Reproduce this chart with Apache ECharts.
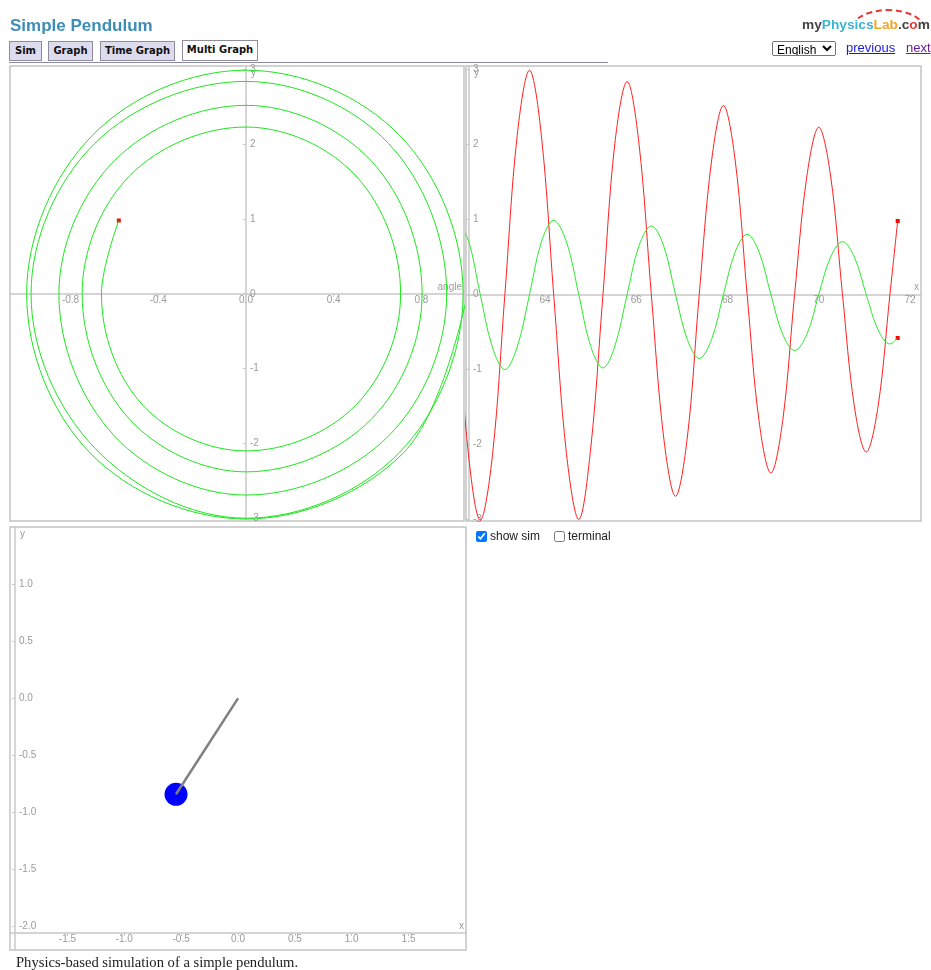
<!DOCTYPE html>
<html>
<head>
<meta charset="utf-8">
<title>Simple Pendulum</title>
<script src="https://cdn.jsdelivr.net/npm/echarts@6/dist/echarts.min.js"></script>
<style>
  html, body { margin: 0; padding: 0; background: #fff; }
  body { width: 931px; height: 970px; position: relative; overflow: hidden; font-family: "Liberation Sans", Arial, sans-serif; }
  #chart { position: absolute; left: 0; top: 0; width: 931px; height: 970px; }
  .abs { position: absolute; white-space: nowrap; z-index: 2; }
  .title { left: 10px; top: 16px; font: bold 17px/20px "Liberation Sans", Arial, sans-serif; color: #3d8db5; }
  .tab { top: 41px; height: 20px; box-sizing: border-box; border: 1.5px solid #8d8d9d; background: #dcdcee;
         font: bold 10px/17px "DejaVu Sans", Verdana, sans-serif; color: #111; text-align: center; }
  .tab.sel { top: 40px; height: 21px; background: #fff; line-height: 18px; }
  .rule { left: 9px; top: 61.5px; width: 599px; height: 0; border-top: 1.5px solid #8a8aa2; }
  .logo { left: 802px; top: 17px; font: bold 13.7px/16px "Liberation Sans", Arial, sans-serif; color: #444; }
  .arc { left: 848px; top: 9px; width: 80px; height: 24px; box-sizing: border-box;
         border: 2px dashed #e53935; border-color: #e53935 transparent transparent transparent;
         border-radius: 50% 50% 0 0 / 100% 100% 0 0; }
  select.abs { left: 772px; top: 41px; width: 64px; height: 15px; font: 12px "Liberation Sans", Arial, sans-serif; padding: 0; }
  .link { top: 40px; font: 13px/16px "Liberation Sans", Arial, sans-serif; text-decoration: underline; }
  .chk { margin: 0; width: 11px; height: 11px; }
  .lbl { font: 12px/14px "Liberation Sans", Arial, sans-serif; color: #222; top: 529px; }
  .caption { left: 16px; top: 954px; font: 14.6px/16px "Liberation Serif", "Times New Roman", serif; color: #222; }
</style>
</head>
<body>
<div id="chart"></div>

<div class="abs title">Simple Pendulum</div>
<div class="abs tab" style="left:9px;width:33px;">Sim</div>
<div class="abs tab" style="left:48px;width:45px;">Graph</div>
<div class="abs tab" style="left:100px;width:75px;">Time Graph</div>
<div class="abs tab sel" style="left:182px;width:76px;">Multi Graph</div>
<div class="abs rule"></div>

<div class="abs arc"></div>
<div class="abs logo">my<span style="color:#3cb4d0">Physics</span><span style="color:#f5a623">Lab</span>.c<span style="color:#e53935">o</span>m</div>
<select class="abs"><option>English</option></select>
<div class="abs link" style="left:846px;color:#1a1ae6;">previous</div>
<div class="abs link" style="left:906px;color:#6a1b9a;">next</div>

<input type="checkbox" class="abs chk" style="left:476px;top:531px;" checked>
<div class="abs lbl" style="left:490px;">show sim</div>
<input type="checkbox" class="abs chk" style="left:554px;top:531px;">
<div class="abs lbl" style="left:568px;">terminal</div>

<div class="abs caption">Physics-based simulation of a simple pendulum.</div>

<script>
// values: time, angle and angular velocity at the turning points and in between
var time = [62.05, 62.32, 62.58, 62.85, 63.12, 63.39, 63.66, 63.92, 64.19, 64.47, 64.74, 65.00, 65.27, 65.53,
            65.80, 66.06, 66.33, 66.60, 66.86, 67.12, 67.38, 67.65, 67.91, 68.17, 68.43, 68.69,
            68.95, 69.21, 69.47, 69.74, 70.00, 70.26, 70.52, 70.78, 71.04, 71.30, 71.56, 71.73];
var angle = [1.01, 0.72, 0, -0.71, -1.00, -0.70, 0, 0.70, 0.99, 0.70, 0, -0.69, -0.98, -0.69,
             0, 0.65, 0.915, 0.65, 0, -0.60, -0.853, -0.60, 0, 0.57, 0.803, 0.57,
             0, -0.53, -0.747, -0.53, 0, 0.50, 0.705, 0.50, 0, -0.47, -0.659, -0.58];
var angVel = [0, -2.12, -3.01, -2.13, 0, 2.12, 2.99, 2.12, 0, -2.12, -3.00, -2.06, 0, 2.01,
              2.84, 2.01, 0, -1.90, -2.69, -1.90, 0, 1.78, 2.52, 1.78, 0, -1.68,
              -2.38, -1.68, 0, 1.58, 2.23, 1.58, 0, -1.49, -2.10, -1.49, 0, 0.98];

var phaseXTicks = [-0.8, -0.4, 0, 0.4, 0.8];
var phaseYTicks = [-3, -2, -1, 0, 1, 2, 3];
var timeXTicks = [64, 66, 68, 70, 72];
var timeYTicks = [-3, -2, -1, 0, 1, 2, 3];
var simXTicks = [-1.5, -1.0, -0.5, 0, 0.5, 1.0, 1.5];
var simYTicks = [-2.0, -1.5, -1.0, -0.5, 0, 0.5, 1.0];

var pivot = [0, 0];
var bob = [-0.545, -0.842];

var AXIS_COLOR = '#c8c8c8';
var LABEL_COLOR = '#9b9b9b';
var last = time.length - 1;

// axes sit on zero of the other axis (or near the edge); moved there with offset so the labels follow
function axis(o) {
    var horizontal = o.dir === 'x';
    return {
        type: 'value',
        gridIndex: o.grid,
        min: o.min,
        max: o.max,
        offset: o.offset || 0,
        name: o.name,
        nameLocation: 'end',
        nameGap: -2,
        nameMoveOverlap: false,
        nameTextStyle: horizontal
            ? { color: LABEL_COLOR, fontSize: 10, fontFamily: 'Liberation Sans', align: 'right', verticalAlign: 'bottom', padding: [0, 0, 2, 0] }
            : { color: LABEL_COLOR, fontSize: 10, fontFamily: 'Liberation Sans', align: 'left', verticalAlign: 'top', padding: [0, 0, 0, 5] },
        splitLine: { show: false },
        axisLine: { onZero: false, lineStyle: { color: AXIS_COLOR, width: 1.5 } },
        axisTick: { show: true, length: 3, customValues: o.ticks, lineStyle: { color: AXIS_COLOR } },
        axisLabel: {
            customValues: o.ticks,
            inside: !horizontal,
            margin: horizontal ? 1 : 4,
            color: LABEL_COLOR,
            fontSize: 10,
            fontFamily: 'Liberation Sans',
            formatter: function (v) { return v.toFixed(o.digits); }
        }
    };
}

var chart = echarts.init(document.getElementById('chart'));
chart.setOption({
    animation: false,
    backgroundColor: '#fff',
    grid: [
        { left: 10, top: 66, width: 454, height: 455, show: true, borderColor: '#c4c4c4', borderWidth: 1.5, outerBoundsMode: 'none' },
        { left: 466, top: 66, width: 455, height: 455, show: true, borderColor: '#c4c4c4', borderWidth: 1.5, outerBoundsMode: 'none' },
        { left: 10, top: 527, width: 456, height: 423, show: true, borderColor: '#c4c4c4', borderWidth: 1.5, outerBoundsMode: 'none' }
    ],
    xAxis: [
        axis({ dir: 'x', grid: 0, min: -1.076, max: 0.994, ticks: phaseXTicks, digits: 1, name: 'angle', offset: -227.2 }),
        axis({ dir: 'x', grid: 1, min: 62.268, max: 72.241, ticks: timeXTicks, digits: 0, name: 'x', offset: -226.5 }),
        axis({ dir: 'x', grid: 2, min: -2.005, max: 2.005, ticks: simXTicks, digits: 1, name: 'x', offset: -17 })
    ],
    yAxis: [
        axis({ dir: 'y', grid: 0, min: -3.037, max: 3.046, ticks: phaseYTicks, digits: 0, name: 'y', offset: -236 }),
        axis({ dir: 'y', grid: 1, min: -3.02, max: 3.047, ticks: timeYTicks, digits: 0, name: 'y', offset: -3 }),
        axis({ dir: 'y', grid: 2, min: -2.208, max: 1.503, ticks: simYTicks, digits: 1, name: 'y', offset: -5 })
    ],
    series: [
        {
            type: 'line', xAxisIndex: 0, yAxisIndex: 0, smooth: 0.36, symbol: 'none',
            data: angle.map(function (a, i) { return [a, angVel[i]]; }),
            lineStyle: { color: '#1de61d', width: 1 }
        },
        {
            type: 'scatter', xAxisIndex: 0, yAxisIndex: 0, symbol: 'rect', symbolSize: 4,
            data: [[angle[last], angVel[last]]],
            itemStyle: { color: '#ff0000', opacity: 1 }
        },
        {
            type: 'line', xAxisIndex: 1, yAxisIndex: 1, smooth: 0.36, symbol: 'none',
            data: time.map(function (t, i) { return [t, angVel[i]]; }),
            lineStyle: { color: '#ff2020', width: 1 }
        },
        {
            type: 'line', xAxisIndex: 1, yAxisIndex: 1, smooth: 0.36, symbol: 'none',
            data: time.map(function (t, i) { return [t, angle[i]]; }),
            lineStyle: { color: '#2ee82e', width: 1 }
        },
        {
            type: 'scatter', xAxisIndex: 1, yAxisIndex: 1, symbol: 'rect', symbolSize: 4,
            data: [[time[last], angVel[last]], [time[last], angle[last]]],
            itemStyle: { color: '#ff0000', opacity: 1 }
        },
        {
            type: 'line', xAxisIndex: 2, yAxisIndex: 2, symbol: 'none',
            data: [pivot, bob],
            lineStyle: { color: '#808080', width: 2.5 }
        },
        {
            type: 'scatter', xAxisIndex: 2, yAxisIndex: 2, symbolSize: 23,
            data: [bob],
            itemStyle: { color: '#0000ff', opacity: 1 }
        }
    ]
});
</script>
</body>
</html>
